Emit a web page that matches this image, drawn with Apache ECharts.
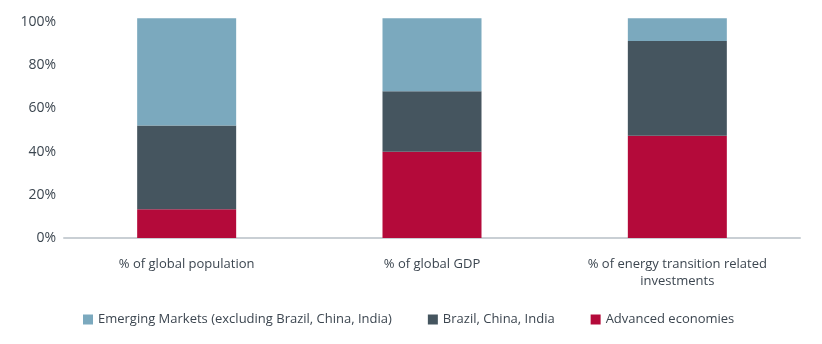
<!DOCTYPE html>
<html><head><meta charset="utf-8">
<script src="https://cdn.jsdelivr.net/npm/echarts@6/dist/echarts.min.js"></script>
<style>html,body{margin:0;padding:0;background:#fff}#c{width:822px;height:344px}</style>
</head><body><div id="c"></div>
<script>
const categories = ['% of global population', '% of global GDP', '% of energy transition related\ninvestments'];
const advanced = [13.3, 39.9, 47.3];
const bci = [38.8, 28.0, 43.9];
const emerging = [49.6, 33.8, 10.5];
const yTicks = [0, 20, 40, 60, 80, 100];
const seriesNames = ['Emerging Markets (excluding Brazil, China, India)', 'Brazil, China, India', 'Advanced economies'];

const font = 'Open Sans';
const txt = '#3c4650';
const chart = echarts.init(document.getElementById('c'));
chart.setOption({
  animation: false,
  grid: {left: 64, right: 22, top: 22, bottom: 106, containLabel: false},
  legend: {
    data: seriesNames,
    left: 83, top: 313, padding: 0,
    itemWidth: 10, itemHeight: 10, itemGap: 36,
    icon: 'rect',
    textStyle: {fontFamily: font, fontSize: 13, color: txt}
  },
  xAxis: {
    type: 'category', data: categories,
    axisLine: {lineStyle: {color: '#c9cfd4', width: 2}},
    axisTick: {show: false},
    axisLabel: {fontFamily: font, fontSize: 13, color: txt, margin: 18, lineHeight: 17, interval: 0}
  },
  yAxis: {
    type: 'value', min: 0, max: 100, interval: 20,
    axisLine: {show: false}, axisTick: {show: false}, splitLine: {show: false},
    axisLabel: {fontFamily: font, fontSize: 14, color: txt, margin: 8,
      formatter: v => yTicks.includes(v) ? v + '%' : ''}
  },
  series: [
    {name: seriesNames[2], type: 'bar', stack: 's', data: advanced, barWidth: 99, clip: false, itemStyle: {color: '#b40a3a'}},
    {name: seriesNames[1], type: 'bar', stack: 's', data: bci, barWidth: 99, clip: false, itemStyle: {color: '#45555f'}},
    {name: seriesNames[0], type: 'bar', stack: 's', data: emerging, barWidth: 99, clip: false, itemStyle: {color: '#7ba9be'}}
  ]
});
</script></body></html>
